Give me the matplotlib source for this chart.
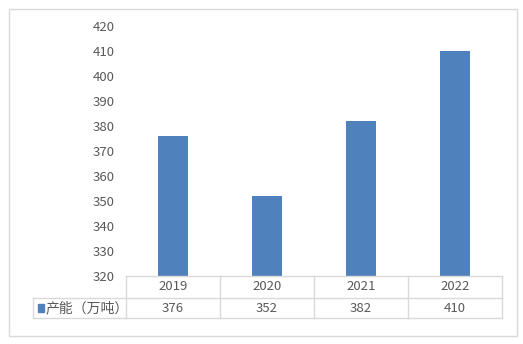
import matplotlib.pyplot as plt
import matplotlib.transforms as mtransforms
from matplotlib.patches import Rectangle
from matplotlib.lines import Line2D

plt.rcParams['font.family'] = ['Noto Sans CJK SC', 'DejaVu Sans']

# ---- data ----
years = ['2019', '2020', '2021', '2022']
capacity = [376, 352, 382, 410]
series_name = '产能（万吨）'
yticks = [320, 330, 340, 350, 360, 370, 380, 390, 400, 410, 420]

BAR_COLOR = '#4F81BD'
GRID_COLOR = '#D9D9D9'
TEXT_COLOR = '#595959'

fig = plt.figure(figsize=(5.23, 3.44), dpi=100)
fig.patches.append(Rectangle((9 / 523, 8 / 344), 508 / 523, 327 / 344,
                             transform=fig.transFigure, fill=False,
                             edgecolor=GRID_COLOR, lw=1))

ax = fig.add_axes([126 / 523, 1 - 276 / 344, 376 / 523, 250 / 344])
x = list(range(len(years)))
ax.bar(x, capacity, width=0.32, color=BAR_COLOR)
ax.set_xlim(-0.5, len(years) - 0.5)
ax.set_ylim(320, 420)
ax.set_yticks(yticks)
ax.set_xticks([])
ax.tick_params(axis='y', length=0, pad=8, labelsize=9.5, labelcolor=TEXT_COLOR)
for s in ax.spines.values():
    s.set_visible(False)

# ---- data table under the plot ----
trans = mtransforms.blended_transform_factory(ax.transData, ax.transAxes)
r0, r1, r2 = 0.0, -0.088, -0.168
left = -0.5 - 93 / 94  # left edge of the row-label cell, in data units

def hline(x0, x1, y):
    ax.add_line(Line2D([x0, x1], [y, y], transform=trans, color=GRID_COLOR,
                       lw=1, clip_on=False))

def vline(xv, y0, y1):
    ax.add_line(Line2D([xv, xv], [y0, y1], transform=trans, color=GRID_COLOR,
                       lw=1, clip_on=False))

hline(-0.5, len(years) - 0.5, r0)
hline(left, len(years) - 0.5, r1)
hline(left, len(years) - 0.5, r2)
for i in range(len(years) + 1):
    vline(i - 0.5, r0, r2)
vline(left, r1, r2)

for i, (yr, v) in enumerate(zip(years, capacity)):
    ax.text(i, (r0 + r1) / 2, yr, transform=trans, ha='center', va='center',
            fontsize=9.5, color=TEXT_COLOR)
    ax.text(i, (r1 + r2) / 2, str(v), transform=trans, ha='center', va='center',
            fontsize=9.5, color=TEXT_COLOR)

ax.add_patch(Rectangle((left + 0.05, (r1 + r2) / 2 - 0.016), 0.07, 0.032,
                       transform=trans, color=BAR_COLOR, clip_on=False))
ax.text(left + 0.13, (r1 + r2) / 2, series_name, transform=trans, ha='left',
        va='center', fontsize=10, color=TEXT_COLOR)

fig.savefig('out.png', dpi=100)
